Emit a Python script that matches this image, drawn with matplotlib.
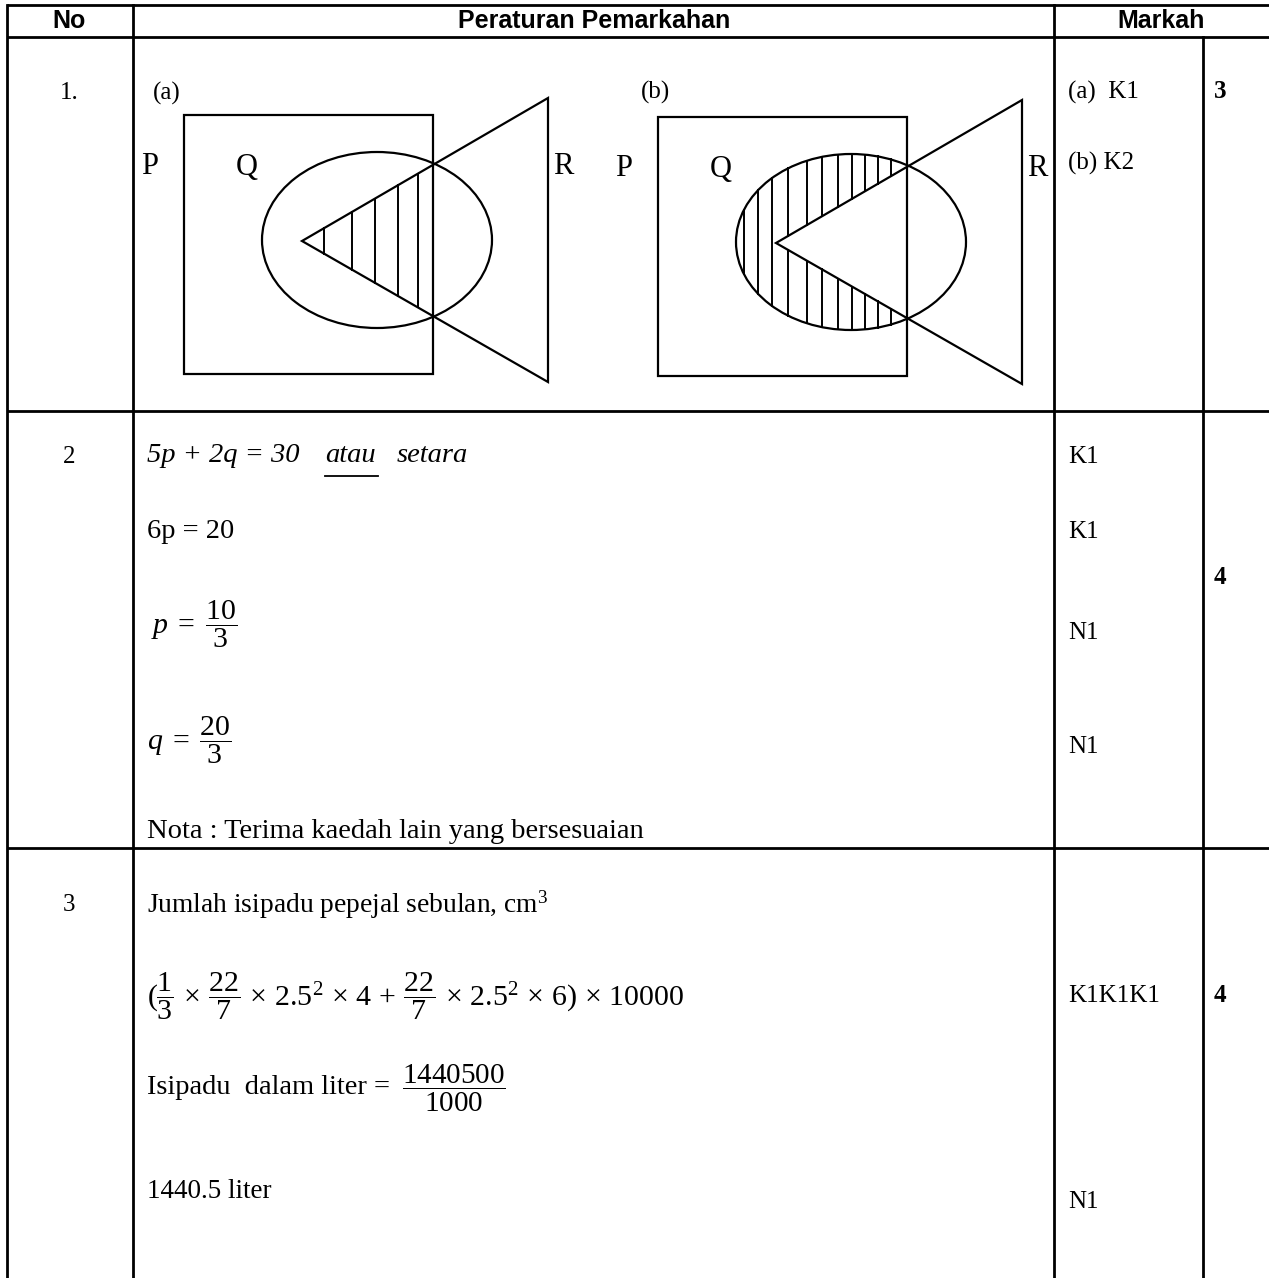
import numpy as np
import matplotlib.pyplot as plt
from matplotlib.patches import Rectangle, Ellipse, Polygon

plt.rcParams['mathtext.fontset'] = 'custom'
plt.rcParams['mathtext.rm'] = 'Liberation Serif'
plt.rcParams['mathtext.it'] = 'Liberation Serif:italic'
plt.rcParams['mathtext.bf'] = 'Liberation Serif:bold'

SERIF = 'Liberation Serif'
SANS = 'Liberation Sans'

# table grid (pixels)
col_x = [7, 133, 1054, 1203]
row_y = [5, 37, 411, 848]
headers = ['No', 'Peraturan Pemarkahan', 'Markah']
header_x = [69, 594, 1161]

# question numbers
q_labels = ['1.', '2', '3']
q_y = [93, 457, 905]

# Venn shape, local coords from top-left of the square
square_wh = (249, 259)
ell_c = (193, 125)
ell_ab = (115, 88)
tri = [(118, 126), (364, -17), (364, 267)]
venn_origin = [(184, 115), (658, 117)]
venn_tags = ['(a)', '(b)']
tag_pos = [(153, 93), (641, 92)]
pqr_labels = ['P', 'Q', 'R']
pqr_local = [(-34, 52), (63, 52), (379, 52)]
hatch_a = [140, 168, 191, 214, 234]
hatch_b = [86, 100, 114, 130, 149, 164, 180, 194, 207, 220, 233]

# marks column
marks = ['(a)  K1', '(b) K2', 'K1', 'K1', 'N1', 'N1', 'K1K1K1', 'N1']
marks_y = [92, 163, 457, 532, 633, 747, 996, 1202]
totals = ['3', '4', '4']
totals_y = [92, 578, 996]

W, H = 1269, 1278
fig = plt.figure(figsize=(W / 100, H / 100), dpi=100)
ax = fig.add_axes([0, 0, 1, 1])
ax.set_xlim(0, W)
ax.set_ylim(H, 0)
ax.axis('off')

lw = 2.0
for y in row_y:
    ax.plot([col_x[0], W], [y, y], color='black', lw=lw, solid_capstyle='butt')
ax.plot([col_x[0]] * 2, [row_y[0], H], color='black', lw=lw)
ax.plot([col_x[1]] * 2, [row_y[0], H], color='black', lw=lw)
ax.plot([col_x[2]] * 2, [row_y[0], H], color='black', lw=lw)
ax.plot([col_x[3]] * 2, [row_y[1], H], color='black', lw=lw)

for t, x in zip(headers, header_x):
    ax.text(x, 21, t, family=SANS, weight='bold', fontsize=18, ha='center', va='center')

for t, y in zip(q_labels, q_y):
    ax.text(69, y, t, family=SERIF, fontsize=18, ha='center', va='center')

for t, y in zip(marks, marks_y):
    ax.text(1068, y, t, family=SERIF, fontsize=18, ha='left', va='center')
for t, y in zip(totals, totals_y):
    ax.text(1214, y, t, family=SERIF, weight='bold', fontsize=18, ha='left', va='center')


# Venn diagrams
def tri_edges(x, ox, oy):
    (x0, y0), (x1, y1), (x2, y2) = [(px + ox, py + oy) for px, py in tri]
    t = (x - x0) / (x1 - x0)
    return y0 + t * (y1 - y0), y0 + t * (y2 - y0)


for k, (ox, oy) in enumerate(venn_origin):
    ax.add_patch(Rectangle((ox, oy), *square_wh, fill=False, lw=1.6, ec='black'))
    ax.add_patch(Ellipse((ox + ell_c[0], oy + ell_c[1]), 2 * ell_ab[0], 2 * ell_ab[1],
                         fill=False, lw=1.6, ec='black'))
    ax.add_patch(Polygon([(px + ox, py + oy) for px, py in tri], closed=True,
                         fill=False, lw=1.6, ec='black'))
    for t, (lx, ly) in zip(pqr_labels, pqr_local):
        ax.text(ox + lx, oy + ly, t, family=SERIF, fontsize=22, ha='center', va='center')
    ax.text(tag_pos[k][0], tag_pos[k][1], venn_tags[k], family=SERIF, fontsize=18,
            ha='left', va='center')

    cx, cy = ox + ell_c[0], oy + ell_c[1]
    a, b = ell_ab
    if k == 0:
        for hx in hatch_a:
            x = ox + hx
            yu, yl = tri_edges(x, ox, oy)
            ax.plot([x, x], [yu, yl], color='black', lw=1.4)
    else:
        for hx in hatch_b:
            x = ox + hx
            d = b * np.sqrt(max(0.0, 1 - ((x - cx) / a) ** 2))
            top, bot = cy - d, cy + d
            if x <= ox + tri[0][0]:
                ax.plot([x, x], [top, bot], color='black', lw=1.4)
            else:
                yu, yl = tri_edges(x, ox, oy)
                ax.plot([x, x], [top, yu], color='black', lw=1.4)
                ax.plot([x, x], [yl, bot], color='black', lw=1.4)

# row 2 working
fs = 20.5
tx = 147
ax.text(tx, 456, '5p + 2q = 30', family=SERIF, style='italic', fontsize=fs,
        ha='left', va='center')
ax.text(325, 456, 'atau', family=SERIF, style='italic', fontsize=fs, ha='left', va='center')
ax.plot([325, 378], [476, 476], color='black', lw=1.3)
ax.text(397, 456, 'setara', family=SERIF, style='italic', fontsize=fs, ha='left', va='center')
ax.text(tx, 532, '6p = 20', family=SERIF, fontsize=fs, ha='left', va='center')
ax.text(tx + 4, 624, r'$p\;=\;\dfrac{10}{3}$', fontsize=21.5, ha='left', va='center')
ax.text(tx, 740, r'$q\;=\;\dfrac{20}{3}$', fontsize=21.5, ha='left', va='center')
ax.text(tx, 832, 'Nota : Terima kaedah lain yang bersesuaian', family=SERIF, fontsize=fs,
        ha='left', va='center')

# row 3 working
ax.text(tx, 905, 'Jumlah isipadu pepejal sebulan, cm$^3$', family=SERIF, fontsize=19.8,
        ha='left', va='center')
ax.text(tx, 996, r'$(\dfrac{1}{3}\,\times\,\dfrac{22}{7}\,\times\, 2.5^2\,\times\, 4\,+\,'
        r'\dfrac{22}{7}\,\times\, 2.5^2\,\times\, 6)\,\times\, 10000$',
        fontsize=21.5, ha='left', va='center')
ax.text(tx, 1088, 'Isipadu  dalam liter =', family=SERIF, fontsize=20.5, ha='left',
        va='center')
ax.text(402, 1088, r'$\dfrac{1440500}{1000}$', fontsize=21, ha='left', va='center')
ax.text(tx, 1192, '1440.5 liter', family=SERIF, fontsize=19.5, ha='left', va='center')

fig.savefig('out.png', dpi=100)
